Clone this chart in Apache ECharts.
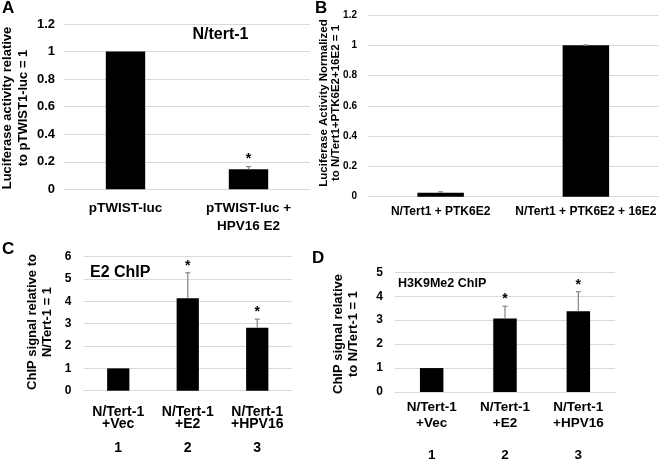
<!DOCTYPE html>
<html><head><meta charset="utf-8">
<script src="https://cdn.jsdelivr.net/npm/echarts@6/dist/echarts.min.js"></script>
<style>html,body{margin:0;padding:0;background:#fff}#c{width:660px;height:463px}</style>
</head><body><div id="c"></div>
<script>
// Panel A
const catA = ['pTWIST-luc', 'pTWIST-luc +\nHPV16 E2'];
const valA = [1, 0.145];
const errA = [0, 0.02];
const sigA = ['', '*'];
// Panel B
const catB = ['N/Tert1 + PTK6E2', 'N/Tert1 + PTK6E2 + 16E2'];
const valB = [0.026, 1];
const errB = [0.006, 0.002];
const sigB = ['', ''];
// Panel C
const catC = ['N/Tert-1\n+Vec\n\n1', 'N/Tert-1\n+E2\n\n2', 'N/Tert-1\n+HPV16\n\n3'];
const valC = [1, 4.14, 2.82];
const errC = [0, 1.14, 0.38];
const sigC = ['', '*', '*'];
// Panel D
const catD = ['N/Tert-1\n+Vec\n\n1', 'N/Tert-1\n+E2\n\n2', 'N/Tert-1\n+HPV16\n\n3'];
const valD = [1, 3.07, 3.37];
const errD = [0, 0.51, 0.82];
const sigD = ['', '*', '*'];

const FF = "'Liberation Sans', Arial, sans-serif";
const GRIDC = '#d9d9d9';

function errRender(vals, errs, sigs) {
  return function (params, api) {
    const i = params.dataIndex;
    const base = api.coord([i, vals[i]]);
    const top = api.coord([i, vals[i] + errs[i]]);
    const ch = [];
    if (errs[i] > 0) {
      ch.push({type: 'line', shape: {x1: base[0], y1: base[1], x2: top[0], y2: top[1]}, style: {stroke: '#8c8c8c', lineWidth: 1.3}});
      ch.push({type: 'line', shape: {x1: top[0] - 2.5, y1: top[1], x2: top[0] + 2.5, y2: top[1]}, style: {stroke: '#8c8c8c', lineWidth: 1.3}});
    }
    if (sigs[i]) {
      ch.push({type: 'text', style: {x: top[0], y: top[1] - 7, text: sigs[i], fill: '#000', font: 'bold 14px ' + FF, textAlign: 'center', textVerticalAlign: 'middle'}});
    }
    return {type: 'group', children: ch};
  };
}

function yAx(gi, max, interval, fs, margin) {
  return {type: 'value', gridIndex: gi, min: 0, max: max, interval: interval,
    axisLine: {show: false}, axisTick: {show: false},
    splitLine: {lineStyle: {color: GRIDC, width: 1}},
    axisLabel: {fontFamily: FF, fontWeight: 'bold', fontSize: fs, color: '#000', margin: margin}};
}
function xAx(gi, cats, fs, lh, margin) {
  return {type: 'category', gridIndex: gi, data: cats,
    axisLine: {lineStyle: {color: GRIDC, width: 1}}, axisTick: {show: false},
    axisLabel: {fontFamily: FF, fontWeight: 'bold', fontSize: fs, lineHeight: lh, color: '#000', margin: margin, interval: 0}};
}
function barS(i, vals) {
  return {type: 'bar', xAxisIndex: i, yAxisIndex: i, data: vals, barWidth: '32%', itemStyle: {color: '#000'}, silent: true};
}
function errS(i, vals, errs, sigs) {
  return {type: 'custom', xAxisIndex: i, yAxisIndex: i, z: 5, silent: true,
    renderItem: errRender(vals, errs, sigs),
    data: vals.map((v, k) => [k, v + errs[k]])};
}
function txt(x, y, text, fs, opts) {
  return Object.assign({type: 'text', x: x, y: y, silent: true,
    style: Object.assign({text: text, fill: '#000', font: 'bold ' + fs + 'px ' + FF, textAlign: 'left', textVerticalAlign: 'middle'}, opts || {})});
}
function rtxt(x, y, text, fs, lh) {
  return {type: 'text', x: x, y: y, rotation: Math.PI / 2, silent: true,
    style: {text: text, fill: '#000', font: 'bold ' + fs + 'px ' + FF, textAlign: 'center', textVerticalAlign: 'middle', lineHeight: lh}};
}

const chart = echarts.init(document.getElementById('c'), null, {renderer: 'canvas'});
chart.setOption({
  animation: false,
  backgroundColor: '#fff',
  grid: [
    {left: 64, top: 24, width: 246, height: 165.3},
    {left: 368, top: 15, width: 290.5, height: 181.7},
    {left: 83.5, top: 256.7, width: 208.5, height: 134},
    {left: 395, top: 272.3, width: 220, height: 123.4}
  ],
  xAxis: [
    xAx(0, catA, 13.5, 18, 10),
    xAx(1, catB, 12, 14, 8),
    xAx(2, catC, 14, 12, 15),
    xAx(3, catD, 13.5, 16, 7)
  ],
  yAxis: [
    yAx(0, 1.2, 0.2, 13, 9),
    yAx(1, 1.2, 0.2, 10, 11),
    yAx(2, 6, 1, 12, 12),
    yAx(3, 5, 1, 12, 12)
  ],
  series: [
    barS(0, valA), errS(0, valA, errA, sigA),
    barS(1, valB), errS(1, valB, errB, sigB),
    barS(2, valC), errS(2, valC, errC, sigC),
    barS(3, valD), errS(3, valD, errD, sigD)
  ],
  graphic: [
    txt(2, 8, 'A', 17), txt(315, 8, 'B', 17), txt(2, 249, 'C', 17), txt(312, 258, 'D', 17),
    txt(220.5, 35, 'N/tert-1', 16, {textAlign: 'center'}),
    txt(90, 273, 'E2 ChIP', 16),
    txt(398, 284, 'H3K9Me2 ChIP', 12.5),
    rtxt(15.5, 108, 'Luciferase activity relative\nto pTWIST1-luc = 1', 13, 16.5),
    rtxt(330, 103, 'Luciferase Activity Normalized\nto N/Tert1+PTK6E2+16E2 = 1', 11.5, 12),
    rtxt(39.5, 322, 'ChIP signal relative to\nN/Tert-1 = 1', 13, 15),
    rtxt(345.5, 334, 'ChIP signal relative\nto N/Tert-1 = 1', 13, 15)
  ]
});
</script>
</body></html>
